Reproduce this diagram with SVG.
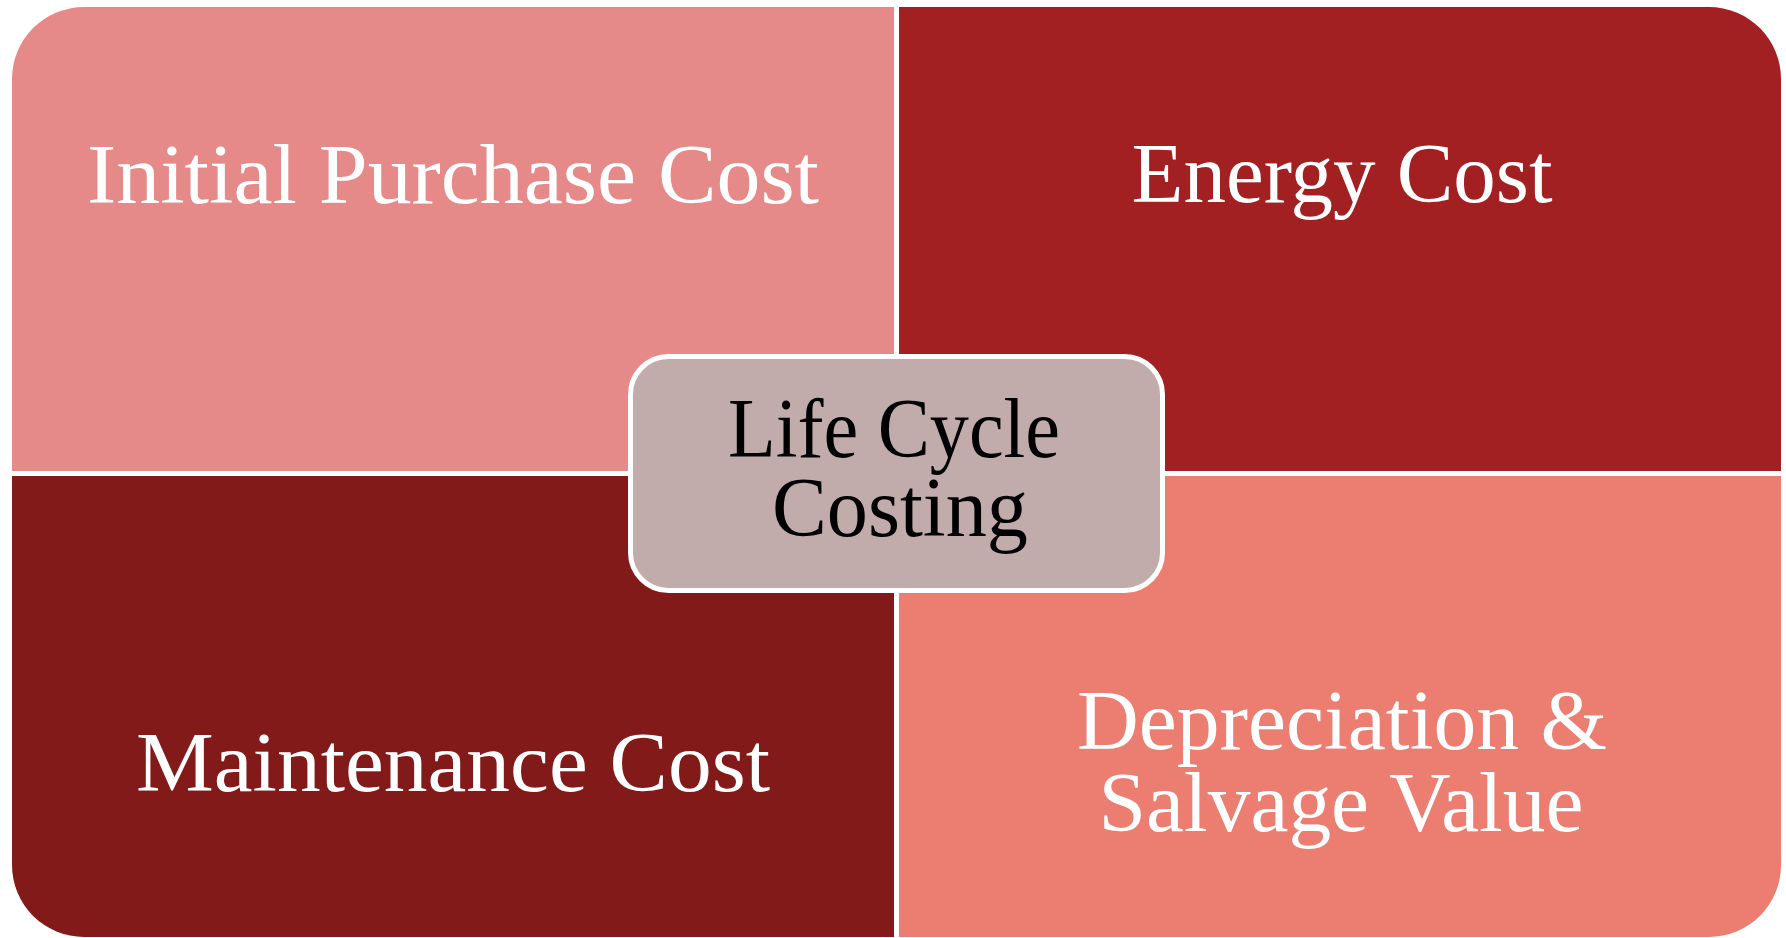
<svg xmlns="http://www.w3.org/2000/svg" width="1786" height="938" viewBox="0 0 1786 938">
<style>
.q{stroke:none}
.t{font-family:"Liberation Serif","Times New Roman",serif;font-size:84px;text-anchor:middle;fill:#ffffff}
.c{fill:#000000}
</style>
<rect x="0" y="0" width="1786" height="938" fill="#ffffff"/>
<g id="initial-purchase-cost">
<path class="q" fill="#E68989" d="M12,79 A72,72 0 0 1 84,7 L894,7 L894,471 L12,471 Z"/>
<text class="t" x="453" y="203" textLength="732" lengthAdjust="spacingAndGlyphs">Initial Purchase Cost</text>
</g>
<g id="energy-cost">
<path class="q" fill="#A21F22" d="M899,7 L1709,7 A72,72 0 0 1 1781,79 L1781,471 L899,471 Z"/>
<text class="t" x="1342" y="202" textLength="421" lengthAdjust="spacingAndGlyphs">Energy Cost</text>
</g>
<g id="maintenance-cost">
<path class="q" fill="#821A1A" d="M12,476 L894,476 L894,937 L84,937 A72,72 0 0 1 12,865 Z"/>
<text class="t" x="453" y="791" textLength="634" lengthAdjust="spacingAndGlyphs">Maintenance Cost</text>
</g>
<g id="depreciation-salvage-value">
<path class="q" fill="#EC7E71" d="M899,476 L1781,476 L1781,865 A72,72 0 0 1 1709,937 L899,937 Z"/>
<text class="t" x="1342" y="749" textLength="530" lengthAdjust="spacingAndGlyphs">Depreciation &amp;</text>
<text class="t" x="1341" y="831" textLength="485" lengthAdjust="spacingAndGlyphs">Salvage Value</text>
</g>
<g id="life-cycle-costing">
<rect x="630.5" y="356.5" width="532" height="234" rx="38" ry="38" fill="#C1ABAB" stroke="#ffffff" stroke-width="5"/>
<text class="t c" x="894" y="457" textLength="332" lengthAdjust="spacingAndGlyphs">Life Cycle</text>
<text class="t c" x="900" y="536" textLength="256" lengthAdjust="spacingAndGlyphs">Costing</text>
</g>
<g id="connectors"></g>
</svg>
